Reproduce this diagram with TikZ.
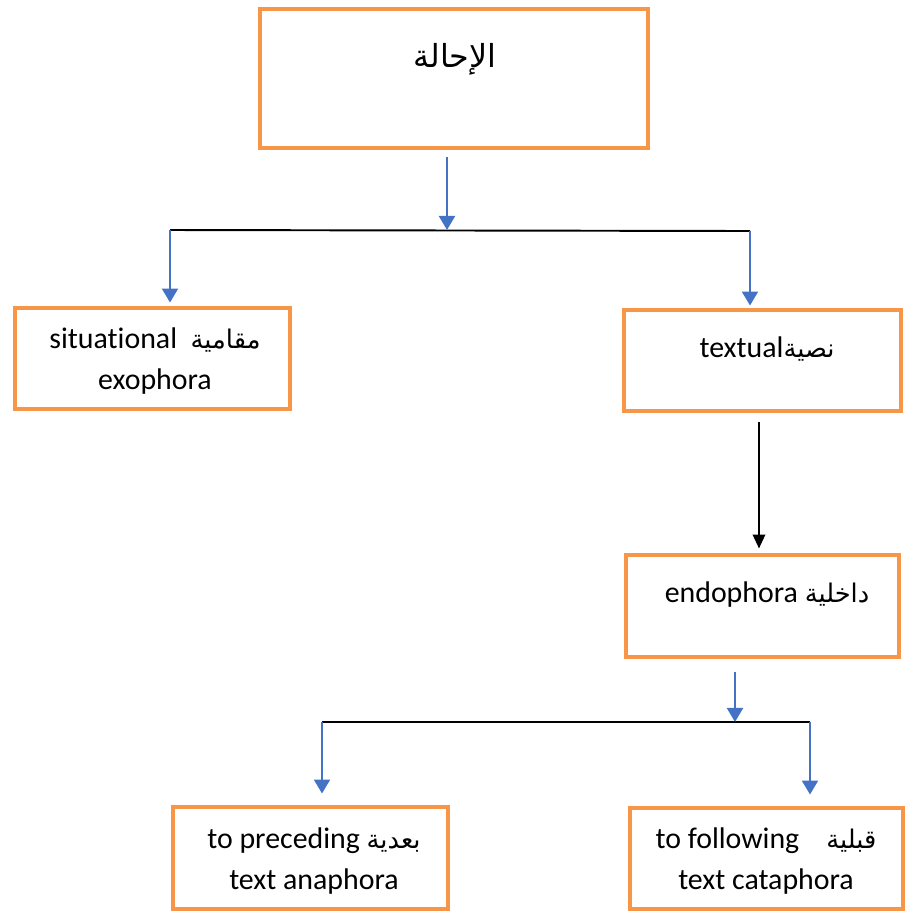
\documentclass[tikz,border=0pt]{standalone}
\usepackage{fontspec}
\setmainfont[Ligatures=NoCommon]{Carlito}
\newfontfamily\arabicfont[Script=Arabic,Scale=0.86]{DejaVu Sans}
\TeXXeTstate=1
\usetikzlibrary{positioning,arrows.meta}
\definecolor{boxorange}{RGB}{247,150,70}
\definecolor{arrowblue}{RGB}{68,114,196}
\newcommand{\ar}[1]{{\arabicfont\beginR #1\endR}}
\begin{document}
\begin{tikzpicture}[x=0.02cm, y=-0.02cm, font=\fontsize{17}{23.5}\selectfont,
	box/.style={draw=boxorange, line width=2.8pt, inner sep=0pt, fill=white},
	txt/.style={align=center, inner sep=0pt},
	bluearrow/.style={draw=arrowblue, line width=1.6pt, -{Triangle[width=9pt,length=8pt]}},
	blackarrow/.style={draw=black, line width=1.4pt, -{Triangle[width=7pt,length=8pt]}},
	bar/.style={draw=black, line width=1.1pt}]
	\useasboundingbox (0,0) rectangle (906,914);
	% boxes
	\node[box, minimum width=7.76cm, minimum height=2.78cm] (top) at (454,78.5) {};
	\node[box, minimum width=5.5cm, minimum height=2.02cm] (situ) at (152.5,358.5) {};
	\node[box, minimum width=5.54cm, minimum height=2.02cm] (textual) at (762.5,360.5) {};
	\node[box, minimum width=5.46cm, minimum height=2.04cm] (endo) at (762.5,606) {};
	\node[box, minimum width=5.5cm, minimum height=2.04cm] (ana) at (310.5,858) {};
	\node[box, minimum width=5.46cm, minimum height=2.02cm] (cata) at (766.5,858.5) {};
	% texts
	\node[txt, font=\fontsize{21}{24}\selectfont] (topTxt) at (455,59) {\ar{الإحالة}};
	\node[txt] (situTxt) at (155,361) {situational\ \ \ar{مقامية}\\exophora};
	\node[txt] (textualTxt) at (767,349) {textual\ar{نصية}};
	\node[txt] (endoTxt) at (767,595) {endophora \ar{داخلية}};
	\node[txt] (anaTxt) at (314,861) {to preceding \ar{بعدية}\\text anaphora};
	\node[txt] (cataTxt) at (766,861) {to following\ \ \ \ \ar{قبلية}\\text cataphora};
	% connectors
	\coordinate (j1) at (447,230);
	\coordinate (b1L) at (170,230);
	\coordinate (b1R) at (750,231);
	\draw[bar] (b1L) -- (b1R);
	\draw[bluearrow, shorten <=0.14cm] (top.south -| j1) -- (j1);
	\draw[bluearrow, shorten >=0.06cm] (b1L) -- (b1L |- situ.north);
	\draw[bluearrow, shorten >=0.04cm] (b1R) -- (b1R |- textual.north);
	\draw[blackarrow, shorten <=0.18cm, shorten >=0.08cm] ([xshift=-0.07cm]textual.south) -- ([xshift=-0.07cm]endo.north);
	\coordinate (j2) at (735,722);
	\coordinate (b2L) at (322,722);
	\coordinate (b2R) at (810,722);
	\draw[bar] (b2L) -- (b2R);
	\draw[bluearrow, shorten <=0.26cm] (endo.south -| j2) -- (j2);
	\draw[bluearrow, shorten >=0.22cm] (b2L) -- (b2L |- ana.north);
	\draw[bluearrow, shorten >=0.22cm] (b2R) -- (b2R |- cata.north);
\end{tikzpicture}
\end{document}
